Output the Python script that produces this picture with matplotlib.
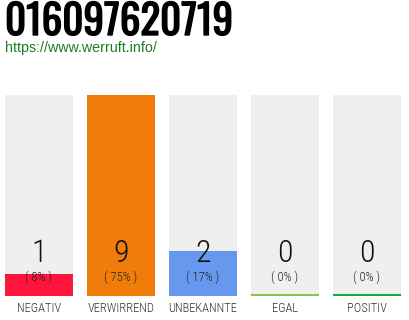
import matplotlib
matplotlib.use("Agg")
import matplotlib.pyplot as plt
import matplotlib.patheffects as path_effects

categories = ["NEGATIV", "VERWIRREND", "UNBEKANNTE", "EGAL", "POSITIV"]
counts = [1, 9, 2, 0, 0]
percents = ["8%", "75%", "17%", "0%", "0%"]
bar_colors = ["#FF143C", "#F07D0A", "#6699EE", "#7DC850", "#1AAA3C"]

title = "016097620719"
url = "https://www.werruft.info/"

cond = ["Roboto Condensed", "DejaVu Sans"]

W, H = 410, 320
fig = plt.figure(figsize=(W / 100, H / 100), dpi=100)
fig.patch.set_facecolor("white")

# bar area: x 5..401, y 95..296 (pixels from top)
ax = fig.add_axes([5 / W, (H - 296) / H, 396 / W, 201 / H])
ax.set_axis_off()

x = list(range(len(categories)))
width = 68 / 82
top = max(counts)
ax.bar(x, [top] * len(x), width=width, color="#EFEFEF", zorder=1)
ax.bar(x, counts, width=width, color=bar_colors, zorder=2)
for i, c in enumerate(counts):
    if c == 0:
        ax.plot([i - width / 2, i + width / 2], [0.04, 0.04], color=bar_colors[i], lw=1.5, zorder=3,
                solid_capstyle="butt")
ax.set_xlim(-width / 2, len(x) - 1 + width / 2)
ax.set_ylim(0, top)

for i, (c, p) in enumerate(zip(counts, percents)):
    ax.text(i, top * 43 / 201, str(c), ha="center", va="center", fontsize=23,
            family=cond, fontweight="light", color="#111111", zorder=4)
    ax.text(i, top * 19 / 201, f"( {p} )", ha="center", va="center", fontsize=9,
            family=cond, fontweight="light", color="#222222", zorder=4)
    ax.text(i, -top * 12 / 201, categories[i], ha="center", va="center", fontsize=9,
            family=cond, fontweight="light", color="#333333", clip_on=False)

t = fig.text(5 / W, 1 - 22 / H, title, ha="left", va="center", fontsize=29.5,
             family=["Oswald", "DejaVu Sans"], fontweight="bold", color="#000000")
t.set_path_effects([path_effects.withStroke(linewidth=1.0, foreground="black")])
fig.text(5 / W, 1 - 48 / H, url, ha="left", va="center", fontsize=10.3,
         family=["Liberation Sans", "DejaVu Sans"], color="#1E7D1E")

fig.savefig("out.png", dpi=100, facecolor="white")
